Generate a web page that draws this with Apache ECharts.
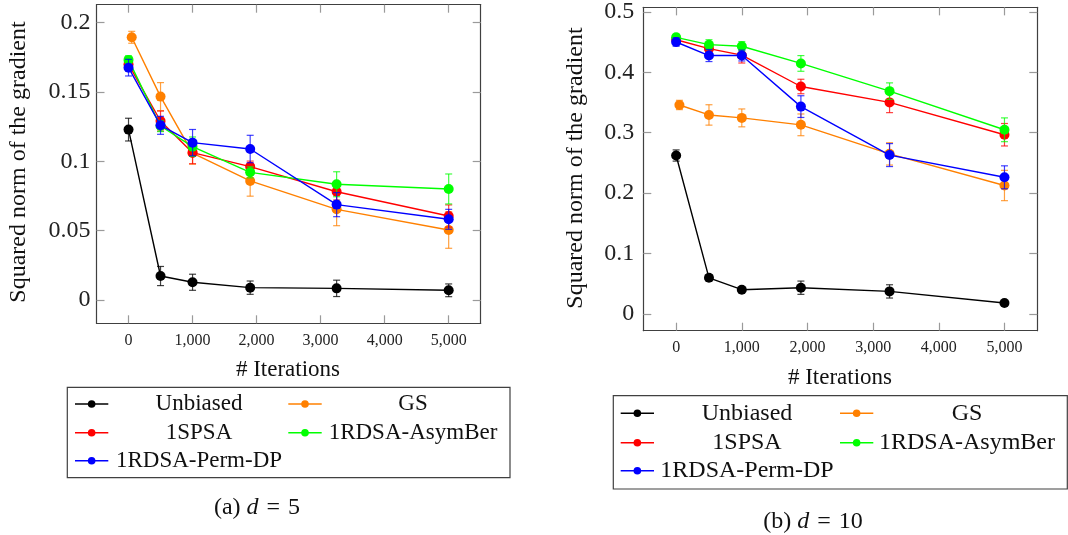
<!DOCTYPE html>
<html>
<head>
<meta charset="utf-8">
<script src="https://cdn.jsdelivr.net/npm/echarts@6/dist/echarts.min.js"></script>
<style>
html,body{margin:0;padding:0;background:#fff;}
#chart{width:1068px;height:535px;}
</style>
</head>
<body>
<div id="chart"></div>
<script>
// ---------- data ----------
const iterations = [0, 500, 1000, 1900, 3250, 5000];
const gsIterations = [50, 500, 1000, 1900, 3250, 5000];
const seriesNames = ['Unbiased', 'GS', '1SPSA', '1RDSA-AsymBer', '1RDSA-Perm-DP'];
const seriesColors = ['#000000', '#ff8000', '#ff0000', '#00ff00', '#0000ff'];

// d = 5
const unbiased5 = [0.1229, 0.0173, 0.0128, 0.0089, 0.0084, 0.0070];
const unbiased5Err = [0.0082, 0.0069, 0.0058, 0.0048, 0.0059, 0.0046];
const gs5 = [0.1895, 0.1467, 0.1060, 0.0859, 0.0654, 0.0505];
const gs5Err = [0.0043, 0.0101, 0.0080, 0.0110, 0.0118, 0.0132];
const spsa5 = [0.1700, 0.1291, 0.1063, 0.0962, 0.0781, 0.0606];
const spsa5Err = [0.0040, 0.0072, 0.0080, 0.0040, 0.0060, 0.0080];
const asym5 = [0.1732, 0.1255, 0.1106, 0.0921, 0.0835, 0.0801];
const asym5Err = [0.0030, 0.0040, 0.0070, 0.0040, 0.0090, 0.0108];
const perm5 = [0.1676, 0.1260, 0.1135, 0.1089, 0.0688, 0.0582];
const perm5Err = [0.0060, 0.0065, 0.0095, 0.0099, 0.0087, 0.0072];

// d = 10
const unbiased10 = [0.2623, 0.0597, 0.0400, 0.0433, 0.0372, 0.0180];
const unbiased10Err = [0.0093, 0.0050, 0.0020, 0.0110, 0.0110, 0.0030];
const gs10 = [0.3460, 0.3295, 0.3246, 0.3131, 0.2650, 0.2126];
const gs10Err = [0.0077, 0.0169, 0.0148, 0.0180, 0.0185, 0.0251];
const spsa10 = [0.4540, 0.4393, 0.4285, 0.3766, 0.3503, 0.2967];
const spsa10Err = [0.0050, 0.0090, 0.0130, 0.0120, 0.0170, 0.0186];
const asym10 = [0.4580, 0.4459, 0.4433, 0.4148, 0.3689, 0.3049];
const asym10Err = [0.0050, 0.0082, 0.0076, 0.0130, 0.0137, 0.0197];
const perm10 = [0.4503, 0.4279, 0.4279, 0.3433, 0.2630, 0.2262];
const perm10Err = [0.0070, 0.0100, 0.0090, 0.0180, 0.0190, 0.0190];

// ticks
const xTickValues = [0, 1000, 2000, 3000, 4000, 5000];
const xTickLabels = ['0', '1,000', '2,000', '3,000', '4,000', '5,000'];
const yTickValues5 = [0, 0.05, 0.1, 0.15, 0.2];
const yTickLabels5 = ['0', '0.05', '0.1', '0.15', '0.2'];
const yTickValues10 = [0, 0.1, 0.2, 0.3, 0.4, 0.5];
const yTickLabels10 = ['0', '0.1', '0.2', '0.3', '0.4', '0.5'];

const xLabel = '# Iterations';
const yLabel = 'Squared norm of the gradient';
const captions = ['(a) ', '(b) '];
const captionVals = ['5', '10'];

// ---------- build ----------
const FONT = "'Liberation Serif', 'Times New Roman', Times, serif";
const panels = [
  {
    grid: {left: 96.5, top: 4.7, width: 384.2, height: 318.6},
    yMin: -0.0168, yMax: 0.213,
    yTicks: yTickValues5, yLabels: yTickLabels5,
    means: [unbiased5, gs5, spsa5, asym5, perm5],
    errs: [unbiased5Err, gs5Err, spsa5Err, asym5Err, perm5Err],
    legend: {x0: 67.3, y0: 387.3, x1: 510, y1: 477.7, rows: [404, 432.7, 460.7],
             icon: [[75, 108.3], [288.3, 321.7]], textC: [199, 413], fs: 23},
    yName: {x: 19, y: 162},
    xName: {x: 288, y: 370},
    caption: {x: 257, y: 508}
  },
  {
    grid: {left: 643.3, top: 4, width: 394, height: 326.7},
    yMin: -0.0279, yMax: 0.5077,
    yTicks: yTickValues10, yLabels: yTickLabels10,
    means: [unbiased10, gs10, spsa10, asym10, perm10],
    errs: [unbiased10Err, gs10Err, spsa10Err, asym10Err, perm10Err],
    legend: {x0: 613.3, y0: 395.7, x1: 1067.3, y1: 489, rows: [413.3, 442.7, 470.7],
             icon: [[620.7, 654], [840, 873.3]], textC: [747, 967], fs: 24},
    yName: {x: 576, y: 168},
    xName: {x: 840, y: 378},
    caption: {x: 813, y: 521.7}
  }
];

const grids = [], xAxes = [], yAxes = [], series = [], graphics = [];
const frameLine = {show: true, onZero: false, lineStyle: {color: '#404040', width: 1.2}};
const tickStyle = (vals) => ({show: true, inside: true, length: 8, customValues: vals,
                              lineStyle: {color: '#9a9a9a', width: 1.2}});

panels.forEach((p, pi) => {
  grids.push(Object.assign({}, p.grid));
  const xb = xAxes.length;
  xAxes.push({
    type: 'value', gridIndex: pi, position: 'bottom', min: -500, max: 5500,
    axisLine: frameLine, axisTick: tickStyle(xTickValues),
    axisLabel: {show: true, customValues: xTickValues, margin: 9,
      formatter: v => xTickLabels[xTickValues.indexOf(v)] ?? '',
      fontFamily: FONT, fontSize: 16, color: '#222'},
    splitLine: {show: false}
  });
  xAxes.push({
    type: 'value', gridIndex: pi, position: 'top', min: -500, max: 5500,
    axisLine: frameLine, axisTick: tickStyle(xTickValues),
    axisLabel: {show: false}, splitLine: {show: false}
  });
  const yl = yAxes.length;
  yAxes.push({
    type: 'value', gridIndex: pi, position: 'left', min: p.yMin, max: p.yMax,
    axisLine: frameLine, axisTick: tickStyle(p.yTicks),
    axisLabel: {show: true, customValues: p.yTicks, margin: pi === 0 ? 6 : 9,
      formatter: v => { const i = p.yTicks.findIndex(t => Math.abs(t - v) < 1e-9); return i >= 0 ? p.yLabels[i] : ''; },
      fontFamily: FONT, fontSize: 24, color: '#222'},
    splitLine: {show: false}
  });
  yAxes.push({
    type: 'value', gridIndex: pi, position: 'right', min: p.yMin, max: p.yMax,
    axisLine: frameLine, axisTick: tickStyle(p.yTicks),
    axisLabel: {show: false}, splitLine: {show: false}
  });

  seriesNames.forEach((name, si) => {
    const xs = si === 1 ? gsIterations : iterations;
    const m = p.means[si], e = p.errs[si];
    const color = seriesColors[si];
    series.push({
      type: 'custom', name: name + ' err', xAxisIndex: xb, yAxisIndex: yl,
      z: 2 + si * 2, silent: true,
      data: xs.map((x, i) => [x, m[i] - e[i], m[i] + e[i]]),
      encode: {x: 0, y: [1, 2]},
      renderItem: (params, api) => {
        const x = api.value(0);
        const a = api.coord([x, api.value(1)]);
        const b = api.coord([x, api.value(2)]);
        const st = {stroke: color, lineWidth: 1.2, opacity: 0.75};
        return {type: 'group', children: [
          {type: 'line', shape: {x1: a[0], y1: a[1], x2: b[0], y2: b[1]}, style: st},
          {type: 'line', shape: {x1: a[0] - 3.5, y1: a[1], x2: a[0] + 3.5, y2: a[1]}, style: st},
          {type: 'line', shape: {x1: b[0] - 3.5, y1: b[1], x2: b[0] + 3.5, y2: b[1]}, style: st}
        ]};
      }
    });
    series.push({
      type: 'line', name: name, xAxisIndex: xb, yAxisIndex: yl,
      z: 3 + si * 2,
      data: xs.map((x, i) => [x, m[i]]),
      symbol: 'circle', symbolSize: 10,
      lineStyle: {color: color, width: 1.4},
      itemStyle: {color: color},
      emphasis: {disabled: true},
      animation: false
    });
  });

  // legend box (drawn from series names/colors)
  const L = p.legend;
  graphics.push({type: 'rect', shape: {x: L.x0, y: L.y0, width: L.x1 - L.x0, height: L.y1 - L.y0},
    style: {fill: '#fff', stroke: '#404040', lineWidth: 1.2}});
  seriesNames.forEach((name, si) => {
    const col = si % 2, row = Math.floor(si / 2);
    const y = L.rows[row];
    const [ix0, ix1] = L.icon[col];
    graphics.push({type: 'line', shape: {x1: ix0, y1: y, x2: ix1, y2: y},
      style: {stroke: seriesColors[si], lineWidth: 1.4}});
    graphics.push({type: 'circle', shape: {cx: (ix0 + ix1) / 2, cy: y, r: 3.8},
      style: {fill: seriesColors[si]}});
    graphics.push({type: 'text', x: L.textC[col], y: y,
      style: {text: name, fontFamily: FONT, fontSize: L.fs, fill: '#111',
              align: 'center', verticalAlign: 'middle'}});
  });

  // axis names
  graphics.push({type: 'text', x: p.yName.x, y: p.yName.y, rotation: Math.PI / 2,
    style: {text: yLabel, fontFamily: FONT, fontSize: 24, fill: '#111',
            align: 'center', verticalAlign: 'middle'}});
  graphics.push({type: 'text', x: p.xName.x, y: p.xName.y,
    style: {text: xLabel, fontFamily: FONT, fontSize: 23, fill: '#111',
            align: 'center', verticalAlign: 'middle'}});
  // caption
  graphics.push({type: 'text', x: p.caption.x, y: p.caption.y,
    style: {text: captions[pi] + '{i|d}\u2004=\u2004' + captionVals[pi], fontFamily: FONT, fontSize: 24, fill: '#111',
            align: 'center', verticalAlign: 'middle',
            rich: {i: {fontFamily: FONT, fontStyle: 'italic', fontSize: 24, fill: '#111'}}}});
});

const chart = echarts.init(document.getElementById('chart'), null, {renderer: 'canvas'});
chart.setOption({
  animation: false,
  backgroundColor: '#fff',
  grid: grids,
  xAxis: xAxes,
  yAxis: yAxes,
  series: series,
  graphic: graphics
});
</script>
</body>
</html>
